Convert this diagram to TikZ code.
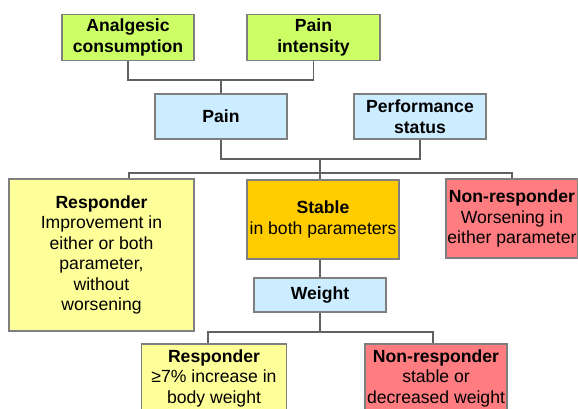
\documentclass[tikz,border=0pt]{standalone}
\usepackage{fontspec}
\setmainfont{Liberation Sans}
\definecolor{cgreen}{HTML}{CCFF66}
\definecolor{cblue}{HTML}{CCECFF}
\definecolor{cyellow}{HTML}{FFFF99}
\definecolor{corange}{HTML}{FFCC00}
\definecolor{cred}{HTML}{FF7C80}
\definecolor{cborder}{HTML}{7F7F7F}
\definecolor{cline}{HTML}{606060}
\begin{document}
\begin{tikzpicture}[x=1pt,y=-1pt,
  box/.style={draw=cborder,line width=1.2pt,rectangle,align=center,inner sep=1pt,
    font=\fontsize{17.6}{20.5}\selectfont},
  conn/.style={draw=cline,line width=1.2pt}]
\useasboundingbox (0,0) rectangle (578,408);
\clip (0,0) rectangle (578,408);
\fill[white] (0,0) rectangle (578,408);
\node[box,fill=cgreen,minimum width=132,minimum height=46] (ana) at (128,37.5) {\textbf{Analgesic}\\\textbf{consumption}};
\node[box,fill=cgreen,minimum width=133,minimum height=46] (pint) at (313.5,37.5) {\textbf{Pain}\\\textbf{intensity}};
\node[box,fill=cblue,minimum width=132,minimum height=45] (pain) at (221,116.5) {\textbf{Pain}};
\node[box,fill=cblue,minimum width=132,minimum height=45] (perf) at (420,116.5) {\textbf{Performance}\\\textbf{status}};
\node[box,fill=cyellow,minimum width=185,minimum height=152] (resp) at (101.5,255) {\textbf{Responder}\\Improvement in\\either or both\\parameter,\\without\\worsening};
\node[box,fill=corange,minimum width=152,minimum height=79] (stab) at (323,219.5) {\textbf{Stable}\\in both parameters};
\node[box,fill=cred,minimum width=132,minimum height=79] (nonr) at (512,218.5) {\textbf{Non-responder}\\Worsening in\\either parameter};
\node[box,fill=cblue,minimum width=132,minimum height=34] (weight) at (320,295) {\textbf{Weight}};
\node[box,fill=cyellow,minimum width=145,minimum height=68] (resp2) at (214,378) {\textbf{Responder}\\≥7\% increase in\\body weight};
\node[box,fill=cred,minimum width=142,minimum height=68] (nonr2) at (436,378) {\textbf{Non-responder}\\stable or\\decreased weight};
\coordinate (j1) at (221,80);
\coordinate (j2) at (320,159);
\coordinate (j3) at (320,173);
\coordinate (rl) at (129,173);
\coordinate (j4) at (320,332);
\coordinate (bl) at (208,332);
\coordinate (br) at (433,332);
\draw[conn] (ana.south) |- (j1) -| (pint.south);
\draw[conn] (j1) -- (pain.north);
\draw[conn] (pain.south) |- (j2) -| (perf.south);
\draw[conn] (j2) -- (j3);
\draw[conn] (rl |- resp.north) -- (rl) -- (j3 -| nonr) -- (nonr.north);
\draw[conn] (j3) -- (j3 |- stab.north);
\draw[conn] (j3 |- stab.south) -- (j3 |- weight.north);
\draw[conn] (weight.south) -- (j4);
\draw[conn] (bl |- resp2.north) -- (bl) -- (br) -- (br |- nonr2.north);
\end{tikzpicture}
\end{document}
